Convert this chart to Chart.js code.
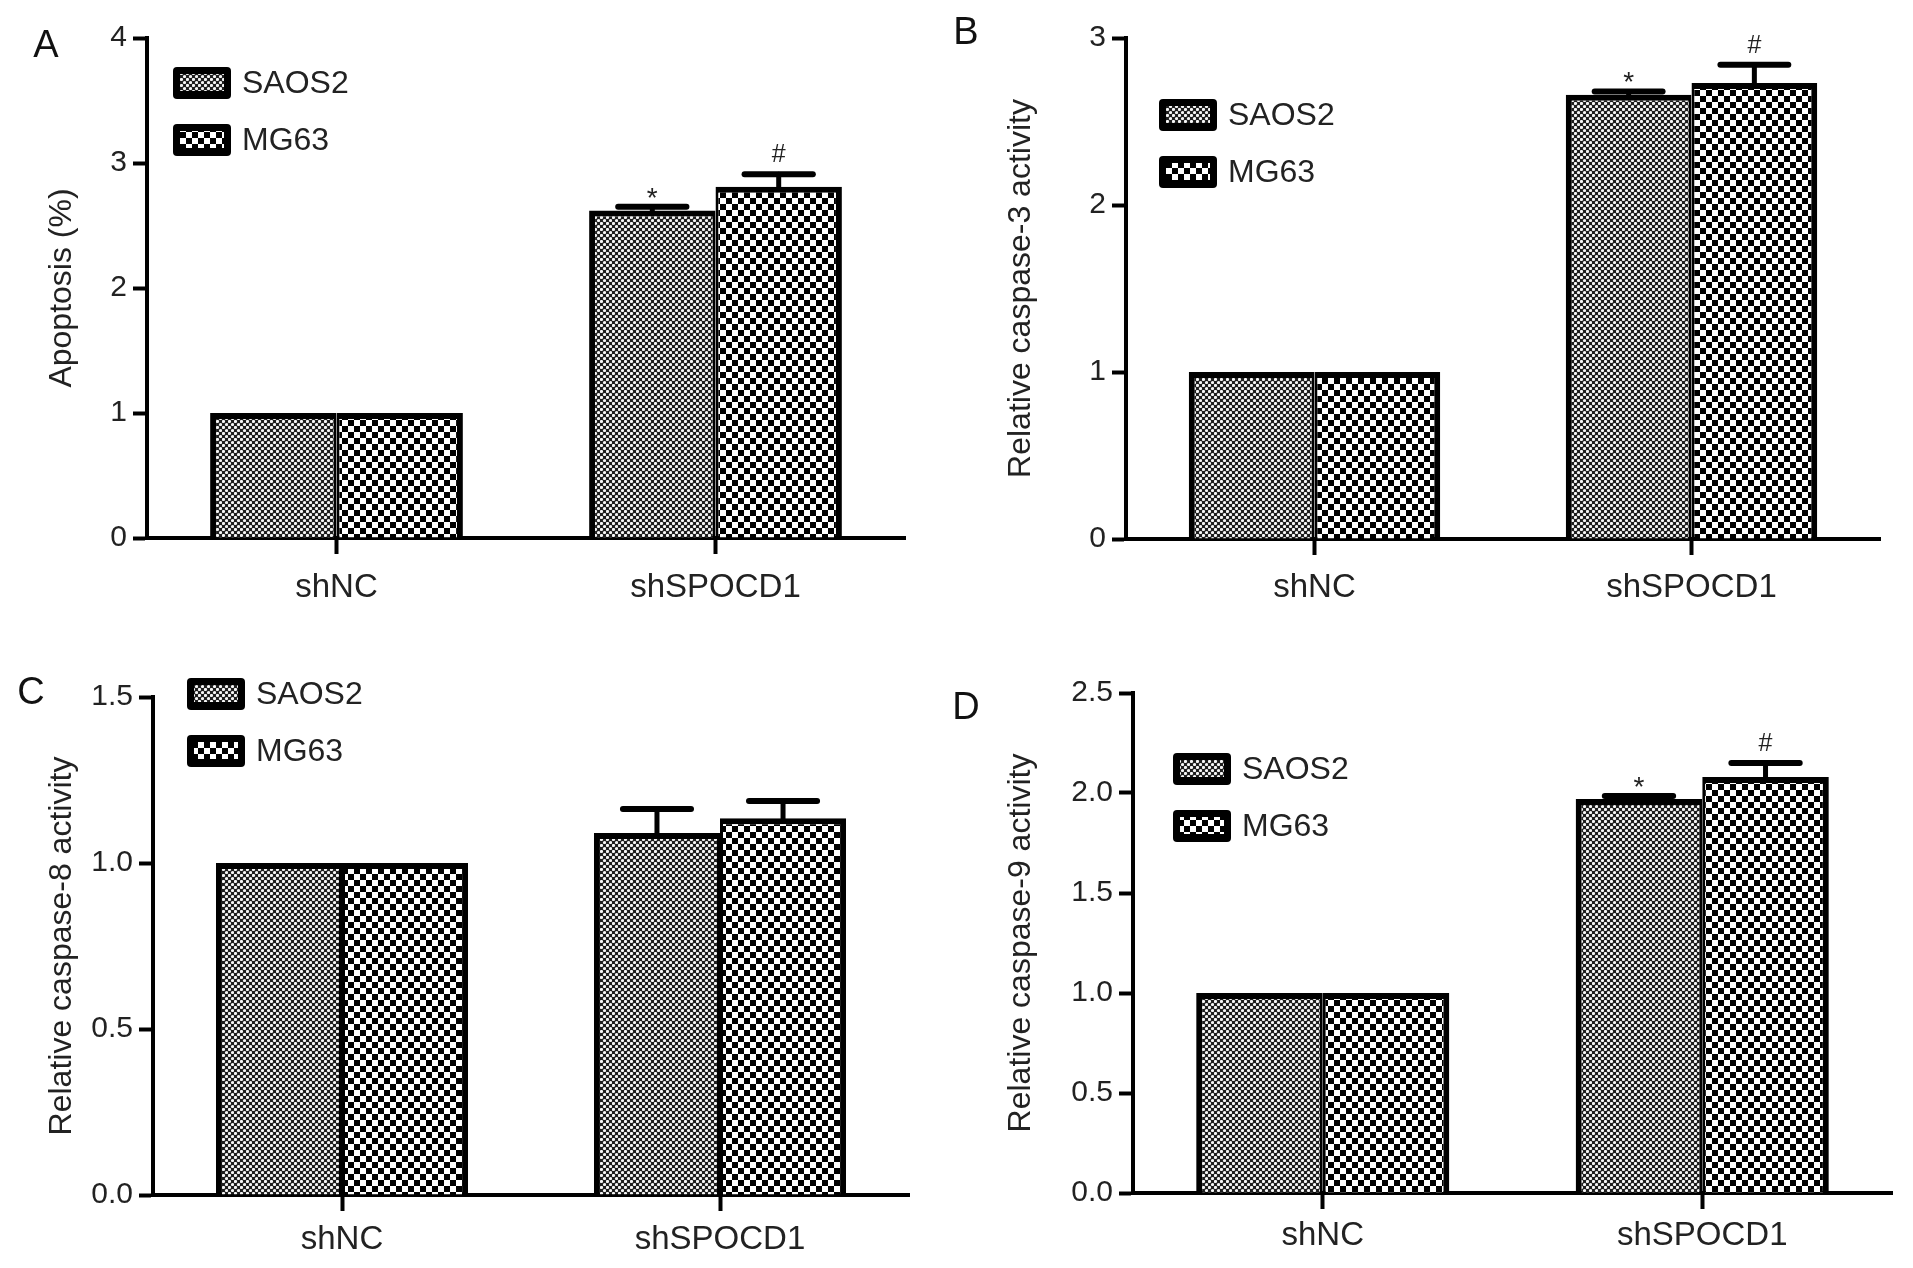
<!DOCTYPE html>
<html>
<head>
<meta charset="utf-8">
<script src="https://cdn.jsdelivr.net/npm/chart.js@4.4.0/dist/chart.umd.min.js"></script>
<style>
  body { margin: 0; background: #fff; width: 1913px; height: 1268px; position: relative; overflow: hidden; }
  canvas { position: absolute; }
  .tag { position: absolute; font: 38px 'Liberation Sans', Arial, sans-serif; color: #111; line-height: 1; transform: translate(-50%, -50%); }
</style>
</head>
<body>
<canvas id="chartA" width="956" height="634" style="left:0;top:0"></canvas>
<canvas id="chartB" width="957" height="634" style="left:956px;top:0"></canvas>
<canvas id="chartC" width="956" height="634" style="left:0;top:634px"></canvas>
<canvas id="chartD" width="957" height="634" style="left:956px;top:634px"></canvas>
<div class="tag" style="left:46px;top:44px">A</div>
<div class="tag" style="left:966px;top:31px">B</div>
<div class="tag" style="left:31px;top:691px">C</div>
<div class="tag" style="left:966px;top:706px">D</div>
<script>
const categories = ['shNC', 'shSPOCD1'];
const seriesNames = ['SAOS2', 'MG63'];

// A - apoptosis
const apoptosisSAOS2 = [1.0, 2.62];
const apoptosisMG63 = [1.0, 2.81];
const apoptosisErrSAOS2 = [0, 0.03];
const apoptosisErrMG63 = [0, 0.10];
const apoptosisMarksSAOS2 = ['', '*'];
const apoptosisMarksMG63 = ['', '#'];
const apoptosisTicks = [0, 1, 2, 3, 4];

// B - caspase-3
const casp3SAOS2 = [1.0, 2.66];
const casp3MG63 = [1.0, 2.73];
const casp3ErrSAOS2 = [0, 0.02];
const casp3ErrMG63 = [0, 0.11];
const casp3MarksSAOS2 = ['', '*'];
const casp3MarksMG63 = ['', '#'];
const casp3Ticks = [0, 1, 2, 3];

// C - caspase-8
const casp8SAOS2 = [1.0, 1.09];
const casp8MG63 = [1.0, 1.135];
const casp8ErrSAOS2 = [0, 0.073];
const casp8ErrMG63 = [0, 0.052];
const casp8MarksSAOS2 = ['', ''];
const casp8MarksMG63 = ['', ''];
const casp8Ticks = [0, 0.5, 1.0, 1.5];

// D - caspase-9
const casp9SAOS2 = [1.0, 1.97];
const casp9MG63 = [1.0, 2.08];
const casp9ErrSAOS2 = [0, 0.015];
const casp9ErrMG63 = [0, 0.07];
const casp9MarksSAOS2 = ['', '*'];
const casp9MarksMG63 = ['', '#'];
const casp9Ticks = [0, 0.5, 1.0, 1.5, 2.0, 2.5];

const FONT = "'Liberation Sans', Arial, sans-serif";

function makePattern(size, draw) {
    const c = document.createElement('canvas');
    c.width = size; c.height = size;
    const g = c.getContext('2d');
    draw(g);
    return g.createPattern(c, 'repeat');
}

// fine dotted grey for SAOS2, coarse checker for MG63
const finePattern = makePattern(6, g => {
    g.fillStyle = '#1e1e1e';
    g.fillRect(0, 0, 6, 6);
    g.fillStyle = '#f6f6f6';
    g.beginPath(); g.arc(1.5, 1.5, 1.6, 0, Math.PI * 2); g.fill();
    g.beginPath(); g.arc(4.5, 4.5, 1.6, 0, Math.PI * 2); g.fill();
});
const checkPattern = makePattern(12, g => {
    g.fillStyle = '#fff';
    g.fillRect(0, 0, 12, 12);
    g.fillStyle = '#000';
    g.fillRect(0, 0, 6, 6);
    g.fillRect(6, 6, 6, 6);
});

const errorBars = {
    id: 'errorBars',
    afterDatasetsDraw(chart) {
        const ctx = chart.ctx;
        const y = chart.scales.y;
        ctx.save();
        chart.data.datasets.forEach((ds, i) => {
            chart.getDatasetMeta(i).data.forEach((bar, j) => {
                const err = ds.errors[j];
                const top = y.getPixelForValue(ds.data[j] + err);
                if (err > 0) {
                    const half = bar.width * 0.27;
                    ctx.strokeStyle = '#000';
                    ctx.lineCap = 'round';
                    ctx.lineWidth = 5;
                    ctx.beginPath();
                    ctx.moveTo(bar.x, bar.y);
                    ctx.lineTo(bar.x, top);
                    ctx.stroke();
                    ctx.lineWidth = 6;
                    ctx.beginPath();
                    ctx.moveTo(bar.x - half, top);
                    ctx.lineTo(bar.x + half, top);
                    ctx.stroke();
                }
                const mark = ds.marks[j];
                if (mark) {
                    ctx.fillStyle = '#222';
                    ctx.textAlign = 'center';
                    ctx.textBaseline = 'alphabetic';
                    ctx.font = (mark === '*' ? '28px ' : '25px ') + FONT;
                    ctx.fillText(mark, bar.x, top - (mark === '*' ? 0 : 12));
                }
            });
        });
        ctx.restore();
    }
};

const boxLegend = {
    id: 'boxLegend',
    afterDraw(chart, args, opts) {
        const ctx = chart.ctx;
        ctx.save();
        chart.data.datasets.forEach((ds, i) => {
            const x = opts.x, y = opts.y + i * 57;
            ctx.fillStyle = '#000';
            ctx.beginPath();
            ctx.roundRect(x, y, 58, 32, 4);
            ctx.fill();
            ctx.fillStyle = ds.backgroundColor;
            ctx.fillRect(x + 7, y + 7, 44, 17);
            ctx.fillStyle = '#222';
            ctx.font = '32px ' + FONT;
            ctx.textAlign = 'left';
            ctx.textBaseline = 'middle';
            ctx.fillText(ds.label, x + 69, y + 17);
        });
        ctx.restore();
    }
};

function makePanel(id, p) {
    new Chart(document.getElementById(id), {
        type: 'bar',
        data: {
            labels: categories,
            datasets: [{
                label: seriesNames[0],
                data: p.saos2,
                errors: p.errSaos2,
                marks: p.marksSaos2,
                backgroundColor: finePattern,
                borderColor: '#000',
                borderWidth: {top: 6, left: 6, right: 3, bottom: 0}
            }, {
                label: seriesNames[1],
                data: p.mg63,
                errors: p.errMg63,
                marks: p.marksMg63,
                backgroundColor: checkPattern,
                borderColor: '#000',
                borderWidth: {top: 6, left: 3, right: 6, bottom: 0}
            }]
        },
        options: {
            responsive: false,
            animation: false,
            devicePixelRatio: 1,
            categoryPercentage: 0.667,
            barPercentage: 1.0,
            layout: {padding: p.pad},
            scales: {
                x: {
                    grid: {drawOnChartArea: false, offset: false, tickLength: 16, tickWidth: 4, tickColor: '#000'},
                    border: {color: '#000', width: 4},
                    ticks: {color: '#222', font: {family: FONT, size: 33}, padding: p.xPad, maxRotation: 0},
                    afterFit: s => { s.height = 70; }
                },
                y: {
                    min: 0,
                    max: p.ticks[p.ticks.length - 1],
                    afterBuildTicks: s => { s.ticks = p.ticks.map(v => ({value: v})); },
                    grid: {drawOnChartArea: false, tickLength: 14, tickWidth: 4, tickColor: '#000'},
                    border: {color: '#000', width: 4},
                    ticks: {
                        color: '#222', font: {family: FONT, size: 30}, padding: 6,
                        callback: v => p.decimals ? Number(v).toFixed(1) : String(v)
                    },
                    title: {display: true, text: p.title, color: '#222', font: {family: FONT, size: 32}, padding: {top: 4, bottom: 4}},
                    afterFit: s => { s.width = p.yW; }
                }
            },
            plugins: {
                legend: {display: false},
                tooltip: {enabled: false},
                boxLegend: p.legend
            }
        },
        plugins: [errorBars, boxLegend]
    });
}

makePanel('chartA', {
    saos2: apoptosisSAOS2, mg63: apoptosisMG63,
    errSaos2: apoptosisErrSAOS2, errMg63: apoptosisErrMG63,
    marksSaos2: apoptosisMarksSAOS2, marksMg63: apoptosisMarksMG63,
    ticks: apoptosisTicks, decimals: false, title: 'Apoptosis (%)',
    pad: {left: 39, right: 51, top: 38, bottom: 26}, yW: 108, xPad: 14,
    legend: {x: 173, y: 67}
});
makePanel('chartB', {
    saos2: casp3SAOS2, mg63: casp3MG63,
    errSaos2: casp3ErrSAOS2, errMg63: casp3ErrMG63,
    marksSaos2: casp3MarksSAOS2, marksMg63: casp3MarksMG63,
    ticks: casp3Ticks, decimals: false, title: 'Relative caspase-3 activity',
    pad: {left: 42, right: 33, top: 38, bottom: 25}, yW: 128, xPad: 13,
    legend: {x: 203, y: 99}
});
makePanel('chartC', {
    saos2: casp8SAOS2, mg63: casp8MG63,
    errSaos2: casp8ErrSAOS2, errMg63: casp8ErrMG63,
    marksSaos2: casp8MarksSAOS2, marksMg63: casp8MarksMG63,
    ticks: casp8Ticks, decimals: true, title: 'Relative caspase-8 activity',
    pad: {left: 39, right: 47, top: 63, bottom: 3}, yW: 114, xPad: 9,
    legend: {x: 187, y: 44}
});
makePanel('chartD', {
    saos2: casp9SAOS2, mg63: casp9MG63,
    errSaos2: casp9ErrSAOS2, errMg63: casp9ErrMG63,
    marksSaos2: casp9MarksSAOS2, marksMg63: casp9MarksMG63,
    ticks: casp9Ticks, decimals: true, title: 'Relative caspase-9 activity',
    pad: {left: 42, right: 21, top: 59, bottom: 5}, yW: 135, xPad: 7,
    legend: {x: 217, y: 119}
});
</script>
</body>
</html>
